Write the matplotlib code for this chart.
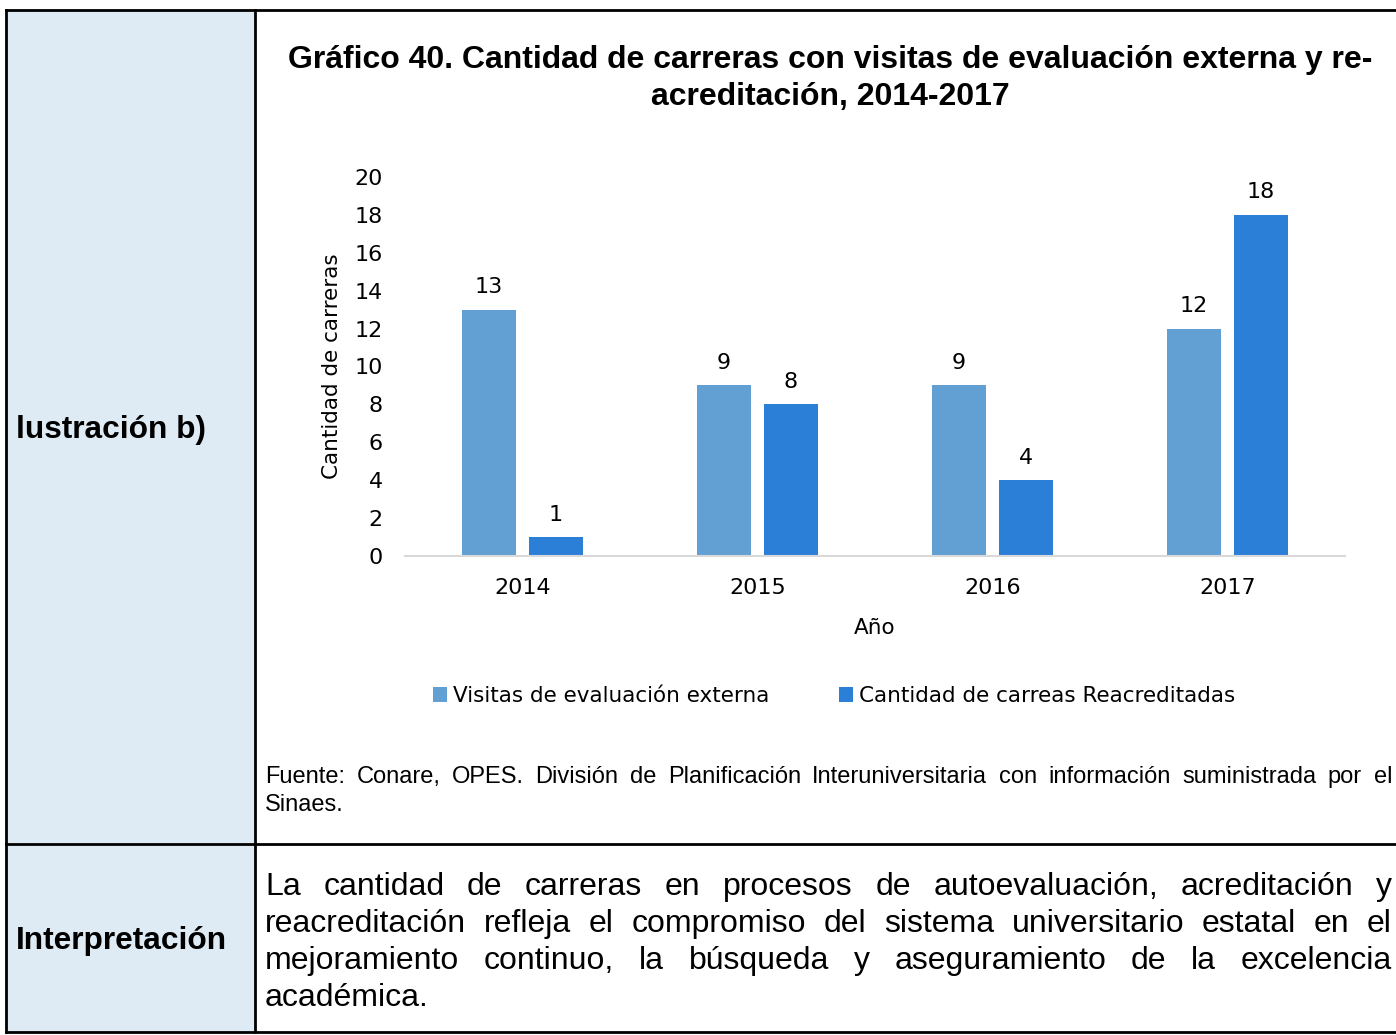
import matplotlib.pyplot as plt
import numpy as np

anios = ['2014', '2015', '2016', '2017']
visitas = [13, 9, 9, 12]
reacreditadas = [1, 8, 4, 18]
series_names = ['Visitas de evaluación externa', 'Cantidad de carreas Reacreditadas']

titulo = ['Gráfico 40. Cantidad de carreras con visitas de evaluación externa y re-',
          'acreditación, 2014-2017']
fuente = ['Fuente: Conare, OPES. División de Planificación Interuniversitaria con información suministrada por el',
          'Sinaes.']
interpretacion = ['La cantidad de carreras en procesos de autoevaluación, acreditación y',
                  'reacreditación refleja el compromiso del sistema universitario estatal en el',
                  'mejoramiento continuo, la búsqueda y aseguramiento de la excelencia',
                  'académica.']

W, H = 1396, 1035
C_LIGHT = '#629FD2'
C_DARK = '#2B7FD7'
TABLE_FONT = 'Liberation Sans'
CHART_FONT = 'DejaVu Sans'
FS = 15.5

fig = plt.figure(figsize=(W / 100, H / 100), dpi=100)
bg = fig.add_axes([0, 0, 1, 1])
bg.set_xlim(0, W)
bg.set_ylim(H, 0)
bg.axis('off')

# table cells
bg.add_patch(plt.Rectangle((6, 10), 249, 1022, color='#DEEAF4', zorder=0))
lw = 2
for x0, y0, x1, y1 in [(6, 10, 1396, 10), (6, 1032, 1396, 1032), (6, 10, 6, 1032),
                       (255, 10, 255, 1032), (6, 844, 1396, 844)]:
    bg.plot([x0, x1], [y0, y1], color='black', lw=lw, solid_capstyle='projecting')

bg.text(16, 430, 'lustración b)', fontsize=22.8, fontweight='bold', family=TABLE_FONT, va='center')
bg.text(16, 941, 'Interpretación', fontsize=22.8, fontweight='bold', family=TABLE_FONT, va='center')

bg.text(830, 60, titulo[0], fontsize=23, fontweight='bold', family=TABLE_FONT, ha='center', va='center')
bg.text(830, 97, titulo[1], fontsize=23, fontweight='bold', family=TABLE_FONT, ha='center', va='center')

renderer = fig.canvas.get_renderer()


def justified(lines, x0, x1, y0, step, size):
    for i, line in enumerate(lines):
        y = y0 + i * step
        words = line.split()
        if i == len(lines) - 1:
            bg.text(x0, y, line, fontsize=size, family=TABLE_FONT, va='center')
            continue
        texts = [bg.text(0, y, w, fontsize=size, family=TABLE_FONT, va='center') for w in words]
        widths = [t.get_window_extent(renderer).width for t in texts]
        gap = (x1 - x0 - sum(widths)) / (len(words) - 1)
        x = x0
        for t, w in zip(texts, widths):
            t.set_x(x)
            x += w + gap


justified(fuente, 265, 1392, 777, 28, 17)
justified(interpretacion, 265, 1392, 887, 37, 23)

# chart
ax = fig.add_axes([405 / W, (H - 556) / H, 940 / W, (556 - 177) / H])
x = np.arange(len(anios))
bw = 0.226
off = 0.1426
b1 = ax.bar(x - off, visitas, bw, color=C_LIGHT, label=series_names[0])
b2 = ax.bar(x + off, reacreditadas, bw, color=C_DARK, label=series_names[1])
for bars in (b1, b2):
    ax.bar_label(bars, padding=9, fontsize=16, family=CHART_FONT)

ax.set_xlim(-0.5, len(anios) - 0.5)
ax.set_ylim(0, 20)
ax.set_yticks(range(0, 21, 2))
ax.set_xticks(x)
ax.set_xticklabels(anios)
ax.tick_params(length=0, labelsize=16)
ax.tick_params(axis='y', pad=16)
ax.tick_params(axis='x', pad=16)
for lab in ax.get_xticklabels() + ax.get_yticklabels():
    lab.set_family(CHART_FONT)
for s in ['top', 'right', 'left']:
    ax.spines[s].set_visible(False)
ax.spines['bottom'].set_color('#D9D9D9')
ax.spines['bottom'].set_linewidth(1.5)
ax.set_xlabel('Año', fontsize=FS, family=CHART_FONT, labelpad=14)
ax.set_ylabel('Cantidad de carreras', fontsize=FS, family=CHART_FONT, labelpad=9)

ax.legend(loc='center', bbox_to_anchor=(834 / W, (H - 696) / H), bbox_transform=fig.transFigure,
          ncol=2, frameon=False, prop={'family': CHART_FONT, 'size': FS},
          handlelength=0.65, handleheight=0.65, handletextpad=0.3, columnspacing=3.2)

fig.savefig('out.png', dpi=100)
